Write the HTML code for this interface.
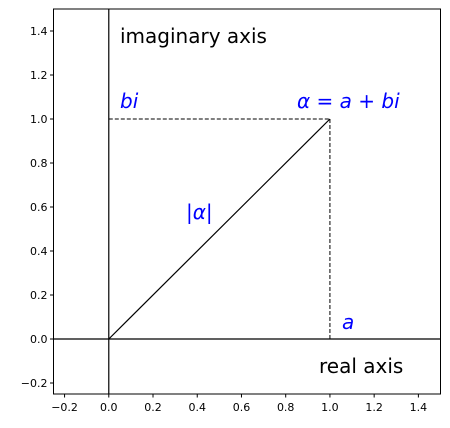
<!DOCTYPE html>
<html><head><meta charset="utf-8"><style>
html,body{margin:0;padding:0;background:#fff;}
svg{display:block;font-family:"DejaVu Sans","Liberation Sans",sans-serif;}
</style></head><body>
<svg id="chart" width="450" height="428" viewBox="0 0 450 428"></svg>
<script>
const xTicks=[-0.2,0.0,0.2,0.4,0.6,0.8,1.0,1.2,1.4];
const yTicks=[-0.2,0.0,0.2,0.4,0.6,0.8,1.0,1.2,1.4];
const point=[1.0,1.0];
const xDomain=[-0.25,1.5], yDomain=[-0.25,1.5];
const L=53.5,R=440.5,T=9,B=394;
const sx=v=>L+(v-xDomain[0])/(xDomain[1]-xDomain[0])*(R-L);
const sy=v=>B-(v-yDomain[0])/(yDomain[1]-yDomain[0])*(B-T);
const svg=document.getElementById('chart');
const NS='http://www.w3.org/2000/svg';
function mk(tag,attrs,parent){const e=document.createElementNS(NS,tag);for(const k in attrs)e.setAttribute(k,attrs[k]);(parent||svg).appendChild(e);return e;}
const frame=mk('rect',{x:L,y:T,width:R-L,height:B-T,fill:'none',stroke:'#000','stroke-width':1});


xTicks.forEach(t=>{
 const x=sx(t);
 const l=mk('line',{x1:x,y1:B,x2:x,y2:B+3.5,stroke:'#000'});
 
 
 const tx=mk('text',{x:x,y:B+17,'font-size':11,'text-anchor':'middle'});
 tx.textContent=(t<0?'\u2212':'')+Math.abs(t).toFixed(1);
 
 
});
yTicks.forEach(t=>{
 const y=sy(t);
 const l=mk('line',{x1:L-3.5,y1:y,x2:L,y2:y,stroke:'#000'});
 
 
 const tx=mk('text',{x:L-6,y:y+4,'font-size':11,'text-anchor':'end'});
 tx.textContent=(t<0?'\u2212':'')+Math.abs(t).toFixed(1);
 
 
});
const xa=mk('line',{x1:L,y1:sy(0),x2:R,y2:sy(0),stroke:'#000','stroke-width':1.2});


const ya=mk('line',{x1:sx(0),y1:T,x2:sx(0),y2:B,stroke:'#000','stroke-width':1.2});


const h=mk('line',{x1:sx(0),y1:sy(point[1]),x2:sx(point[0]),y2:sy(point[1]),stroke:'#000','stroke-dasharray':'4,2'});


const v=mk('line',{x1:sx(point[0]),y1:sy(0),x2:sx(point[0]),y2:sy(point[1]),stroke:'#000','stroke-dasharray':'4,2'});


const m=mk('line',{x1:sx(0),y1:sy(0),x2:sx(point[0]),y2:sy(point[1]),stroke:'#000','stroke-width':1.2});


function label(txt,x,y,color,italic,name){
 const t=mk('text',{x:x,y:y,'font-size':20,fill:color,'font-family':'"DejaVu Sans","Liberation Sans",sans-serif','font-style':italic?'italic':'normal'});
 t.textContent=txt;
 
 
}
label('imaginary axis',120,43,'#000',false,'imaginary-axis-label');
label('real axis',319,373,'#000',false,'real-axis-label');
label('bi',120,108,'blue',true,'bi-label');
label('α = a + bi',297,108,'blue',true,'alpha-label');
label('|α|',186,219,'blue',true,'modulus-label');
label('a',342,329,'blue',true,'a-label');
</script>
</body></html>
